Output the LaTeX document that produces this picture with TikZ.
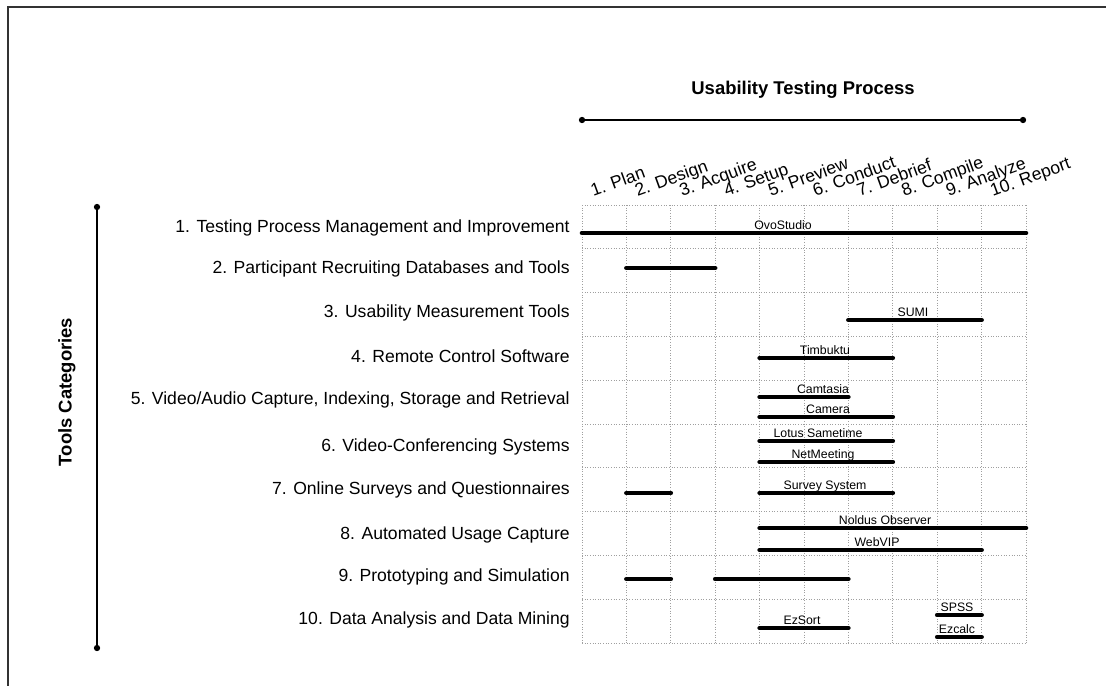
\documentclass[tikz,border=0pt]{standalone}
\usepackage{fontspec}
\setmainfont{Liberation Sans}
\usetikzlibrary{positioning}

\tikzset{
  gridline/.style={gray!75, densely dotted, line width=0.5pt},
  toolbar/.style={line width=2.6pt, line cap=round},
  tool/.style={font=\fontsize{7}{8}\selectfont, anchor=base, yshift=2.2pt, inner sep=0pt},
  catlabel/.style={font=\fontsize{10}{12}\selectfont, anchor=east, inner sep=0pt},
  stagelabel/.style={font=\fontsize{10}{12}\selectfont, anchor=base west, rotate=20, inner sep=0pt},
  heading/.style={font=\fontsize{10.5}{12}\selectfont\bfseries, inner sep=0pt},
  axisline/.style={line width=0.8pt}
}

% one tool: name, y, from column, to column, label x, label
\newcommand{\toolspan}[6]{%
  \draw[toolbar] ({582+44.4*#3},#2) -- ({582+44.4*#4},#2);
  \node[tool] (#1) at (#5,#2) {#6};}

\begin{document}
\begin{tikzpicture}[x=0.02cm, y=-0.02cm]
  \def\gx{582}
  \def\gy{205}
  \def\cw{44.4}
  \def\rh{43.8}
  \useasboundingbox (0,0) rectangle (1106,686);

  % scan frame
  \draw[line width=0.9pt, black!80] (8,686) -- (8,7) -- (1106,7);

  % process axis
  \node[heading] (process) at (803,90) {Usability Testing Process};
  \coordinate (pleft) at (582,120);
  \coordinate (pright) at (1023,120);
  \draw[axisline] (pleft) -- (pright);
  \fill (pleft) circle (1.8pt);
  \fill (pright) circle (1.8pt);

  \foreach \i/\stage in {1/Plan,2/Design,3/Acquire,4/Setup,5/Preview,6/Conduct,7/Debrief,8/Compile,9/Analyze,10/Report}
    \node[stagelabel] (stage\i) at ({\gx+\cw*(\i-1)+11},197) {\i. \stage};

  % categories axis
  \node[heading, rotate=90] (cats) at (67,392) {Tools Categories};
  \coordinate (ctop) at (97,207);
  \coordinate (cbot) at (97,648);
  \draw[axisline] (ctop) -- (cbot);
  \fill (ctop) circle (1.8pt);
  \fill (cbot) circle (1.8pt);

  \node[catlabel] (cat1) at (570,228) {1. Testing Process Management and Improvement};
  \node[catlabel] (cat2) at (570,269) {2. Participant Recruiting Databases and Tools};
  \node[catlabel] (cat3) at (570,313) {3. Usability Measurement Tools};
  \node[catlabel] (cat4) at (570,356) {4. Remote Control Software};
  \node[catlabel] (cat5) at (570,400) {5. Video/Audio Capture, Indexing, Storage and Retrieval};
  \node[catlabel] (cat6) at (570,447) {6. Video-Conferencing Systems};
  \node[catlabel] (cat7) at (570,490) {7. Online Surveys and Questionnaires};
  \node[catlabel] (cat8) at (570,535) {8. Automated Usage Capture};
  \node[catlabel] (cat9) at (570,577) {9. Prototyping and Simulation};
  \node[catlabel] (cat10) at (570,620) {10. Data Analysis and Data Mining};

  % grid
  \foreach \r in {0,...,10}
    \draw[gridline] (\gx,{\gy+\rh*\r}) -- ({\gx+10*\cw},{\gy+\rh*\r});
  \foreach \c in {0,...,10}
    \draw[gridline] ({\gx+\cw*\c},\gy) -- ({\gx+\cw*\c},{\gy+10*\rh});

  % tools
  \toolspan{ovo}{233}{0}{10}{783}{OvoStudio}
  \draw[toolbar] ({\gx+\cw*1},268) -- ({\gx+\cw*3},268);
  \toolspan{sumi}{320}{6}{9}{913}{SUMI}
  \toolspan{timbuktu}{358}{4}{7}{825}{Timbuktu}
  \toolspan{camtasia}{397}{4}{6}{823}{Camtasia}
  \toolspan{camera}{417}{4}{7}{828}{Camera}
  \toolspan{sametime}{441}{4}{7}{818}{Lotus Sametime}
  \toolspan{netmeeting}{462}{4}{7}{823}{NetMeeting}
  \draw[toolbar] ({\gx+\cw*1},493) -- ({\gx+\cw*2},493);
  \toolspan{survey}{493}{4}{7}{825}{Survey System}
  \toolspan{noldus}{528}{4}{10}{885}{Noldus Observer}
  \toolspan{webvip}{550}{4}{9}{877}{WebVIP}
  \draw[toolbar] ({\gx+\cw*1},579) -- ({\gx+\cw*2},579);
  \draw[toolbar] ({\gx+\cw*3},579) -- ({\gx+\cw*6},579);
  \toolspan{spss}{615}{8}{9}{957}{SPSS}
  \toolspan{ezsort}{628}{4}{6}{802}{EzSort}
  \toolspan{ezcalc}{637}{8}{9}{957}{Ezcalc}
\end{tikzpicture}
\end{document}
